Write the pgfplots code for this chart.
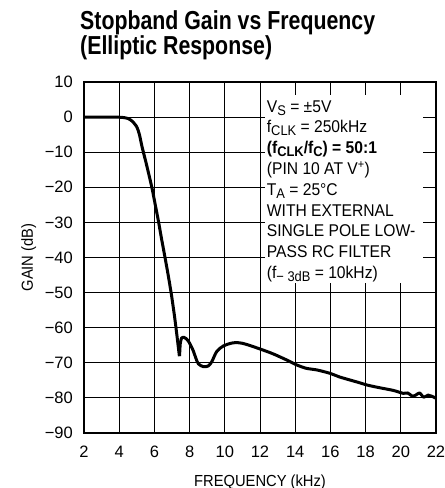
\documentclass[border=0pt]{standalone}
\usepackage{fontspec}
\setmainfont{Liberation Sans}[FakeStretch=0.92]
\newfontfamily\tickfont{Liberation Sans}
\newfontfamily\titlefont{Liberation Sans}[FakeStretch=0.82]
\usepackage{pgfplots}
\pgfplotsset{compat=1.18}
\newcommand\sub[1]{\raisebox{-0.32ex}{\fontsize{14}{14}\selectfont #1}}
\begin{document}
\begin{tikzpicture}
\path[use as bounding box] (-84pt,-55pt) rectangle (361pt,433pt);
\begin{axis}[
  scale only axis, width=352pt, height=351pt,
  xmin=2, xmax=22, ymin=-90, ymax=10,
  xtick={2,4,...,22}, ytick={-90,-80,...,10},
  yticklabels={−90,−80,−70,−60,−50,−40,−30,−20,−10,0,10},
  grid=major, major grid style={black, line width=0.8pt},
  axis line style={black, line width=1.5pt},
  major tick length=0pt,
  tick label style={font=\tickfont\fontsize{16.5}{16.5}\selectfont},
  /pgf/number format/assume math mode=true,
  yticklabel style={anchor=east, inner sep=0pt, xshift=-11pt},
  xticklabel style={anchor=north, inner sep=0pt, yshift=-13pt},
]
\addplot[black, line width=3pt, line join=round, smooth, tension=0.4] coordinates {
(2,0) (3,0) (3.8,0) (4.2,-0.1) (4.5,-0.4) (4.75,-1.2) (5.0,-2.8) (5.15,-5) (5.3,-8.5)
(5.55,-13.5) (5.85,-19.9) (6.05,-25) (6.22,-29.4) (6.4,-34.5) (6.6,-39.9) (6.8,-45.5)
(6.98,-51) (7.15,-57) (7.27,-61.8) (7.42,-68.1)};
\addplot[black, line width=3pt, line join=round, smooth, tension=0.5] coordinates {
(7.43,-68.1) (7.47,-64.5) (7.55,-62.9) (7.66,-62.7) (7.8,-63.1) (7.93,-63.8) (8.08,-65.2) (8.21,-66.6) (8.35,-68.6) (8.5,-70.3)
(8.78,-71.1) (9.06,-70.9) (9.26,-69.7) (9.54,-66.8) (9.92,-65.2) (10.48,-64.3)
(10.96,-64.4) (11.62,-65.4) (12.57,-67.1) (13.04,-68.1) (13.6,-69.4) (14.08,-70.6)
(14.65,-71.6) (15.2,-72.0) (15.98,-73.0) (16.5,-74.0) (17.11,-74.9) (17.6,-75.6) (18.06,-76.3)
(18.5,-76.8) (19.0,-77.3) (19.6,-77.9) (20.14,-78.7) (20.4,-78.6) (20.65,-79.5) (20.85,-79.2) (21.07,-78.6)
(21.3,-79.8) (21.55,-79.2) (21.75,-79.5) (22,-80.1)};
\fill[white] (axis cs:12.28,6.3) rectangle (axis cs:21.26,-47.2);
\node[anchor=north west, align=left, inner sep=0pt, font=\fontsize{17}{20.8}\selectfont]
  at (axis cs:12.38,4.8) {V\sub{S} = ±5V\\
f\sub{CLK} = 250kHz\\
\textbf{(f\sub{\bfseries CLK}/f\sub{\bfseries C}) = 50:1}\\
(PIN 10 AT V\textsuperscript{+})\\
T\sub{A} = 25°C\\
WITH EXTERNAL\\
SINGLE POLE LOW-\\
PASS RC FILTER\\
(f\sub{− 3dB} = 10kHz)};
\end{axis}
\node[anchor=base west, inner sep=0pt, font=\titlefont\bfseries\fontsize{26}{26}\selectfont] at (-4pt,403pt) {Stopband Gain vs Frequency};
\node[anchor=base west, inner sep=0pt, font=\titlefont\bfseries\fontsize{26}{26}\selectfont] at (-4pt,378pt) {(Elliptic Response)};
\node[anchor=base, inner sep=0pt, font=\fontsize{16}{16}\selectfont] at (176pt,-53pt) {FREQUENCY (kHz)};
\node[anchor=base, rotate=90, inner sep=0pt, font=\fontsize{16}{16}\selectfont] at (-51pt,175.5pt) {GAIN (dB)};
\end{tikzpicture}
\end{document}
